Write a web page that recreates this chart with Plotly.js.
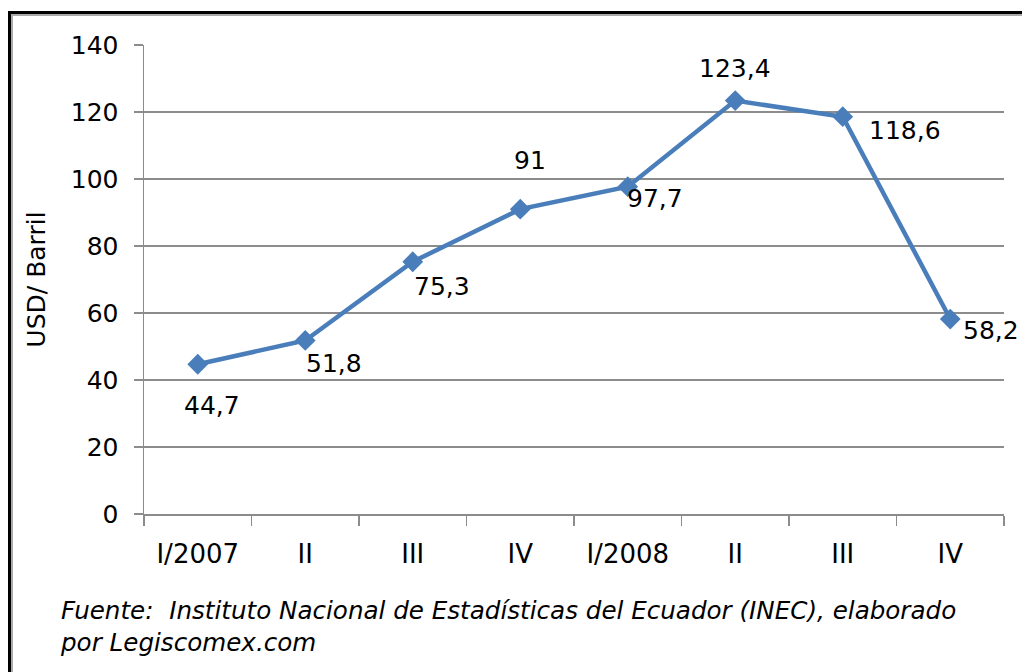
<!DOCTYPE html>
<html><head><meta charset="utf-8">
<script src="https://cdn.plot.ly/plotly-3.0.1.min.js"></script>
<style>
html,body{margin:0;padding:0;background:#fff;overflow:hidden;}
#frame{position:absolute;left:8px;top:11px;width:1100px;height:700px;border:3px solid #000;box-shadow:inset 2px 2px 0 #aaa;}
#chart{position:absolute;left:0;top:0;width:1022px;height:672px;}
</style></head>
<body>
<div id="frame"></div>
<div id="chart"></div>
<script>
const categories = ["I/2007","II","III","IV","I/2008","II","III","IV"];
const prices = [44.7, 51.8, 75.3, 91, 97.7, 123.4, 118.6, 58.2];
const valueLabels = ["44,7","51,8","75,3","91","97,7","123,4","118,6","58,2"];
// label offsets (px) relative to each point
const labelDx = [14, 29, 29, 10, 27, 0, 62, 41];
const labelDy = [-41, -23, -25, 49, -12, 32, -14, -11];

const FONT = 'DejaVu Sans, Verdana, sans-serif';
const xs = categories.map((c,i)=>i);
const trace = {
  x: xs, y: prices, type:'scatter', mode:'lines+markers',
  line:{color:'#4A7EBB', width:4.5},
  marker:{symbol:'diamond', size:16, color:'#4A7EBB'},
  hoverinfo:'skip'
};
const annotations = prices.map((v,i)=>({
  x: xs[i], y: v, xref:'x', yref:'y', text: valueLabels[i], showarrow:false,
  xshift: labelDx[i], yshift: labelDy[i],
  font:{family:FONT, size:25, color:'#000'}
}));
annotations.push({
  xref:'paper', yref:'paper', x:(58-144)/860, y:-(594-514)/469, xanchor:'left', yanchor:'top',
  align:'left', showarrow:false,
  text:'Fuente:  Instituto Nacional de Estadísticas del Ecuador (INEC), elaborado<br>por Legiscomex.com',
  font:{family:FONT, size:24.6, color:'#000', style:'italic'}
});
const layout = {
  width:1022, height:672,
  margin:{l:144, r:18, t:45, b:158},
  paper_bgcolor:'rgba(0,0,0,0)', plot_bgcolor:'rgba(0,0,0,0)',
  showlegend:false,
  font:{family:FONT, size:25, color:'#000'},
  xaxis:{
    range:[-0.5, 7.5], tickmode:'array', tickvals:xs, ticktext:categories,
    ticks:'', showgrid:false, zeroline:false,
    showline:true, linecolor:'#8c8c8c', linewidth:1.5,
    ticklabelstandoff:16,
    minor:{tickmode:'linear', tick0:-0.5, dtick:1, ticks:'outside', ticklen:10, tickcolor:'#8c8c8c', tickwidth:1.5, showgrid:false},
    tickfont:{size:26}
  },
  yaxis:{
    range:[0,140], dtick:20, tick0:0,
    ticks:'outside', ticklen:9, tickcolor:'#8c8c8c', tickwidth:1.5,
    showgrid:true, gridcolor:'#8c8c8c', gridwidth:1.5,
    zeroline:false, showline:true, linecolor:'#8c8c8c', linewidth:1.5,
    ticklabelstandoff:10,
    tickfont:{size:25},
    title:{text:'USD/ Barril', font:{size:25}, standoff:18}
  },
  annotations: annotations
};
Plotly.newPlot('chart', [trace], layout, {displayModeBar:false, staticPlot:true});
</script>
</body></html>
